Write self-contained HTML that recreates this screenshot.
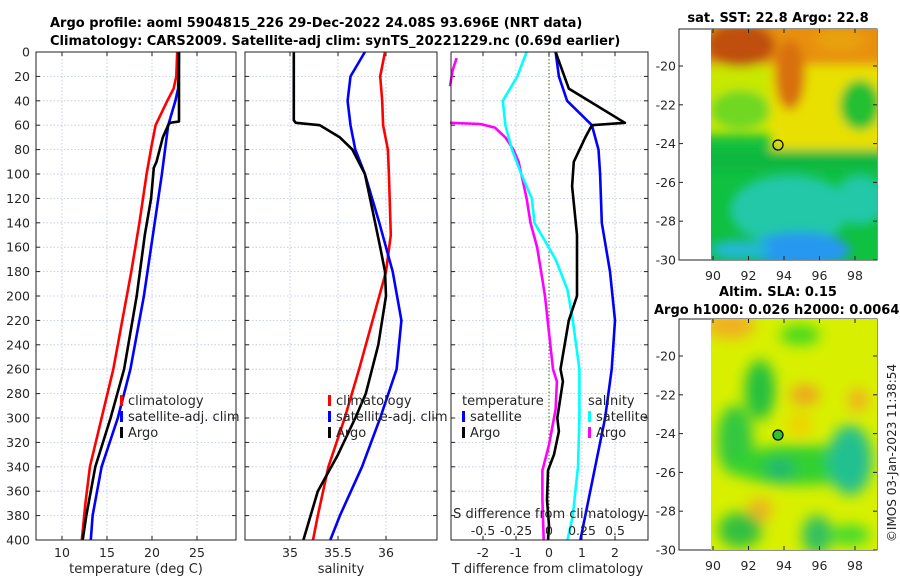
<!DOCTYPE html>
<html><head><meta charset="utf-8"><style>
body{margin:0;background:#fff;}
svg{display:block;font-family:"DejaVu Sans","Liberation Sans",sans-serif;}
</style></head><body>
<svg id="c" width="900" height="580" viewBox="0 0 900 580">
<defs>
<filter id="bl" x="-50%" y="-50%" width="200%" height="200%"><feGaussianBlur stdDeviation="7"/></filter>
<filter id="bl2" x="-50%" y="-50%" width="200%" height="200%"><feGaussianBlur stdDeviation="5"/></filter>
<clipPath id="m1"><rect x="711" y="29" width="166" height="231"/></clipPath>
<clipPath id="m2"><rect x="711" y="319" width="166" height="231"/></clipPath>
</defs>
<text x="50" y="27" font-size="13" font-weight="bold">Argo profile: aoml 5904815_226 29-Dec-2022 24.08S 93.696E (NRT data)</text>
<text x="50" y="45" font-size="13" font-weight="bold">Climatology: CARS2009. Satellite-adj clim: synTS_20221229.nc (0.69d earlier)</text>

<g id="map1">
<text x="778" y="22" font-size="13" font-weight="bold" text-anchor="middle">sat. SST: 22.8 Argo: 22.8</text>
<rect x="679" y="29" width="198" height="231" fill="#fff" stroke="#222"/>
<g clip-path="url(#m1)">
<rect x="711" y="29" width="166" height="231" fill="#10c040"/>
<g filter="url(#bl2)">
<rect x="700" y="20" width="190" height="115" fill="#c8e800"/>
<rect x="770" y="60" width="120" height="95" fill="#e8e000"/>
<ellipse cx="740" cy="110" rx="30" ry="20" fill="#70d820"/>
<ellipse cx="860" cy="105" rx="20" ry="25" fill="#20c030"/>
<rect x="700" y="20" width="190" height="45" fill="#e89010"/>
<ellipse cx="740" cy="45" rx="35" ry="22" fill="#c05008"/>
<ellipse cx="790" cy="75" rx="15" ry="35" fill="#d87008"/>
<ellipse cx="840" cy="40" rx="25" ry="12" fill="#e8a010"/>
<rect x="700" y="150" width="190" height="20" fill="#10b840"/>
<ellipse cx="790" cy="210" rx="60" ry="35" fill="#20c8a8"/>
<ellipse cx="860" cy="200" rx="25" ry="25" fill="#20c8a8"/>
<ellipse cx="800" cy="250" rx="50" ry="18" fill="#2898f0"/>
<ellipse cx="740" cy="250" rx="30" ry="10" fill="#20b8d0"/>
</g>
</g>
<circle cx="778" cy="145" r="5" fill="none" stroke="#000" stroke-width="1.2"/>
</g>

<g id="map2">
<text x="778" y="296" font-size="13" font-weight="bold" text-anchor="middle">Altim. SLA: 0.15</text>
<text x="654" y="314" font-size="13" font-weight="bold">Argo h1000: 0.026 h2000: 0.0064</text>
<rect x="679" y="319" width="198" height="231" fill="#fff" stroke="#222"/>
<g clip-path="url(#m2)">
<rect x="711" y="319" width="166" height="231" fill="#d8f000"/>
<g filter="url(#bl)">
<ellipse cx="730" cy="325" rx="25" ry="14" fill="#f0b020"/>
<ellipse cx="800" cy="335" rx="20" ry="10" fill="#40d820"/>
<ellipse cx="800" cy="425" rx="12" ry="12" fill="#f0d000"/>
<ellipse cx="805" cy="395" rx="15" ry="10" fill="#f0a020"/>
<ellipse cx="858" cy="400" rx="10" ry="12" fill="#f0b020"/>
<ellipse cx="760" cy="390" rx="15" ry="30" fill="#20c040"/>
<ellipse cx="735" cy="440" rx="18" ry="35" fill="#30c840"/>
<ellipse cx="800" cy="465" rx="70" ry="20" fill="#30d030"/>
<ellipse cx="850" cy="460" rx="22" ry="35" fill="#20c090"/>
<ellipse cx="780" cy="470" rx="15" ry="12" fill="#20b870"/>
<ellipse cx="760" cy="510" rx="12" ry="12" fill="#f0b020"/>
<ellipse cx="740" cy="530" rx="22" ry="18" fill="#30c040"/>
<ellipse cx="817" cy="535" rx="15" ry="20" fill="#30c060"/>
<ellipse cx="850" cy="535" rx="20" ry="10" fill="#40d830"/>
</g>
</g>
<circle cx="778" cy="435" r="5" fill="#30c030" stroke="#000" stroke-width="1.2"/>
<text transform="translate(896,453) rotate(-90)" font-size="12" text-anchor="middle" fill="#222">©IMOS 03-Jan-2023 11:38:54</text>
</g>
</svg>
<script>
// ---- data ----
const yTicks=[0,20,40,60,80,100,120,140,160,180,200,220,240,260,280,300,320,340,360,380,400];
const tTicks=[10,15,20,25];
const sTicks=[35,35.5,36];
const dTicks=[-2,-1,0,1,2];
const sdTickLabels=["-0.5","-0.25","0","0.25","0.5"];
const sdTickVals=[-0.5,-0.25,0,0.25,0.5];
const latTicks=[-20,-22,-24,-26,-28,-30];
const lonTicks=[90,92,94,96,98];
// temperature panel
const tClimDepth=[0,20,30,40,60,75,100,140,180,220,260,300,340,370,400];
const tClimVal=[22.8,22.7,22.4,21.7,20.4,20.0,19.4,18.6,17.7,16.7,15.7,14.4,13.1,12.6,12.2];
const tSatDepth=[0,30,40,60,100,140,200,260,300,340,380,400];
const tSatVal=[23.0,22.9,22.6,21.8,21.1,20.3,19.1,17.6,16.2,14.4,13.4,13.2];
const tArgoDepth=[0,57,58,60,70,90,95,120,150,200,260,300,340,380,400];
const tArgoVal=[23.0,23.0,22.0,21.8,21.2,20.5,20.2,19.9,19.2,18.3,16.9,15.4,13.7,12.7,12.3];
// salinity panel
const sClimDepth=[0,20,40,60,80,100,150,180,220,260,300,340,380,400];
const sClimVal=[35.99,35.94,35.96,35.97,36.02,36.03,36.05,36.0,35.86,35.72,35.57,35.40,35.29,35.24];
const sSatDepth=[0,20,40,60,80,100,140,180,220,260,300,340,380,400];
const sSatVal=[35.78,35.63,35.60,35.63,35.68,35.78,35.93,36.07,36.16,36.11,35.94,35.75,35.52,35.42];
const sArgoDepth=[0,56,58,60,70,80,100,130,160,180,200,240,280,300,330,360,400];
const sArgoVal=[35.04,35.04,35.06,35.31,35.52,35.65,35.78,35.86,35.94,35.99,36.0,35.92,35.79,35.68,35.50,35.29,35.14];
// difference panel
const dTSatDepth=[0,20,40,60,80,100,140,180,220,260,300,340,380,400];
const dTSatVal=[0.2,0.3,0.55,1.3,1.5,1.55,1.6,1.85,2.0,1.9,1.7,1.4,1.1,0.95];
const dTArgoDepth=[0,30,58,60,70,90,110,150,200,220,260,270,300,311,330,343,367,388,400];
const dTArgoVal=[0.2,0.6,2.3,1.3,1.1,0.75,0.7,0.85,0.85,0.6,0.35,0.42,0.25,0.3,0.15,-0.03,-0.06,0.0,-0.03];
const dSSatDepth=[0,20,40,60,80,100,120,140,170,195,220,260,300,340,380,400];
const dSSatVal=[-0.17,-0.24,-0.35,-0.33,-0.28,-0.21,-0.13,-0.11,0.05,0.14,0.18,0.23,0.23,0.22,0.18,0.14];
const dSArgoDepth=[5,15,28,null,58,59,62,70,80,90,100,120,140,160,180,200,230,260,270,293,322,343,367,400];
const dSArgoVal=[-0.70,-0.73,-0.75,null,-0.75,-0.52,-0.41,-0.33,-0.27,-0.23,-0.21,-0.17,-0.14,-0.09,-0.06,-0.03,0.0,0.03,0.06,0.05,0.0,-0.05,-0.05,-0.04];

// ---- helpers ----
const svg=document.getElementById('c');
const NS='http://www.w3.org/2000/svg';
function mk(tag,attrs,parent){const e=document.createElementNS(NS,tag);for(const k in attrs)e.setAttribute(k,attrs[k]);(parent||svg).appendChild(e);return e;}
const yD=d=>52+d*1.22;
const panels=[
 {x0:36,x1:236,name:'temperature-panel',fx:v=>62+(v-10)*9,ticks:tTicks,title:'temperature (deg C)'},
 {x0:245,x1:437,name:'salinity-panel',fx:v=>290+(v-35)*96,ticks:sTicks,title:'salinity'},
 {x0:451,x1:648,name:'difference-panel',fx:v=>549+v*33,ticks:dTicks,title:'T difference from climatology'}
];
const fS=v=>549+v*132;
panels.forEach((p,i)=>{
 const g=mk('g',{});
 
 
 mk('rect',{x:p.x0,y:52,width:p.x1-p.x0,height:488,fill:'#fff'},g);
 yTicks.forEach(d=>{
  const l=mk('line',{x1:p.x0,x2:p.x1,y1:yD(d),y2:yD(d),stroke:'#b8c4e0','stroke-width':0.8,'stroke-dasharray':'1.5,2'},g);
  
  
  mk('line',{x1:p.x0,x2:p.x0+4,y1:yD(d),y2:yD(d),stroke:'#222'},g);
  mk('line',{x1:p.x1-4,x2:p.x1,y1:yD(d),y2:yD(d),stroke:'#222'},g);
  if(i===0){const t=mk('text',{x:30,y:yD(d)+4.5,'font-size':12.5,'text-anchor':'end',fill:'#262626'},g);t.textContent=d;
   }
 });
 p.ticks.forEach(v=>{
  const x=p.fx(v);
  const isZero=(i===2&&v===0);
  mk('line',{x1:x,x2:x,y1:52,y2:540,stroke:isZero?'#556b2f':'#b8c4e0','stroke-width':isZero?1.1:0.8,'stroke-dasharray':'1.5,2'},g);
  mk('line',{x1:x,x2:x,y1:536,y2:540,stroke:'#222'},g);
  mk('line',{x1:x,x2:x,y1:52,y2:56,stroke:'#222'},g);
  const t=mk('text',{x:x,y:557,'font-size':12.5,'text-anchor':'middle',fill:'#262626'},g);t.textContent=v;
  
 });
 const at=mk('text',{x:(p.x0+p.x1)/2+(i===2?-2:0),y:573,'font-size':13,'text-anchor':'middle',fill:'#262626'},g);at.textContent=p.title;
 
 p.g=g;
});
function series(g,depths,vals,fx,color,name){
 let d='',pen=false;
 for(let k=0;k<depths.length;k++){
  if(depths[k]===null||vals[k]===null){pen=false;continue;}
  d+=(pen?'L':'M')+fx(vals[k]).toFixed(1)+','+yD(depths[k]).toFixed(1);pen=true;
 }
 const p=mk('path',{d:d,fill:'none',stroke:color,'stroke-width':2.6,'stroke-linejoin':'round'},g);
 
 
}
const P=panels;
series(P[0].g,tClimDepth,tClimVal,P[0].fx,'#ff0000','temp-climatology-line');
series(P[0].g,tSatDepth,tSatVal,P[0].fx,'#0000ff','temp-satellite-line');
series(P[0].g,tArgoDepth,tArgoVal,P[0].fx,'#000000','temp-argo-line');
series(P[1].g,sClimDepth,sClimVal,P[1].fx,'#ff0000','sal-climatology-line');
series(P[1].g,sSatDepth,sSatVal,P[1].fx,'#0000ff','sal-satellite-line');
series(P[1].g,sArgoDepth,sArgoVal,P[1].fx,'#000000','sal-argo-line');
series(P[2].g,dSArgoDepth,dSArgoVal,fS,'#ff00ff','sdiff-argo-line');
series(P[2].g,dSSatDepth,dSSatVal,fS,'#00ffff','sdiff-satellite-line');
series(P[2].g,dTSatDepth,dTSatVal,P[2].fx,'#0000ff','tdiff-satellite-line');
series(P[2].g,dTArgoDepth,dTArgoVal,P[2].fx,'#000000','tdiff-argo-line');
panels.forEach(p=>{mk('rect',{x:p.x0,y:52,width:p.x1-p.x0,height:488,fill:'none',stroke:'#222','stroke-width':1},p.g);});
// S difference axis labels
const sdt=mk('text',{x:549,y:518,'font-size':13,'text-anchor':'middle',fill:'#262626'},P[2].g);sdt.textContent='S difference from climatology';

sdTickVals.forEach((v,k)=>{const t=mk('text',{x:fS(v),y:535,'font-size':12.5,'text-anchor':'middle',fill:'#262626'},P[2].g);t.textContent=sdTickLabels[k];
 });
// legends
function legend(x,y,items,name){
 const g=mk('g',{});
 
 
 items.forEach((it,k)=>{
  const yy=y+k*16;
  if(it[1])mk('rect',{x:x,y:yy-10,width:3,height:11,fill:it[1]},g);
  const t=mk('text',{x:x+(it[1]?8:0),y:yy,'font-size':13,fill:'#262626'},g);t.textContent=it[0];
 });
}
legend(120,405,[['climatology','#ff0000'],['satellite-adj. clim','#0000ff'],['Argo','#000000']],'temperature-legend');
legend(328,405,[['climatology','#ff0000'],['satellite-adj. clim','#0000ff'],['Argo','#000000']],'salinity-legend');
legend(462,405,[['temperature',null],['satellite','#0000ff'],['Argo','#000000']],'tdiff-legend');
legend(588,405,[['salinity',null],['satellite','#00ffff'],['Argo','#ff00ff']],'sdiff-legend');
// map axes
[[29,276],[319,566]].forEach(([top,ly],mi)=>{
 const g=mk('g',{});
 
 
 latTicks.forEach(la=>{const y=top+37+(-20-la)*19.4;
  mk('line',{x1:679,x2:683,y1:y,y2:y,stroke:'#222'},g);mk('line',{x1:873,x2:877,y1:y,y2:y,stroke:'#222'},g);
  const t=mk('text',{x:676,y:y+4.5,'font-size':12.5,'text-anchor':'end',fill:'#262626'},g);t.textContent=la;});
 lonTicks.forEach(lo=>{const x=713+(lo-90)*17.75;
  mk('line',{x1:x,x2:x,y1:top,y2:top+4,stroke:'#222'},g);mk('line',{x1:x,x2:x,y1:top+227,y2:top+231,stroke:'#222'},g);
  const t=mk('text',{x:x,y:ly+4,'font-size':12.5,'text-anchor':'middle',fill:'#262626'},g);t.textContent=lo;});
});
</script>
</body></html>
